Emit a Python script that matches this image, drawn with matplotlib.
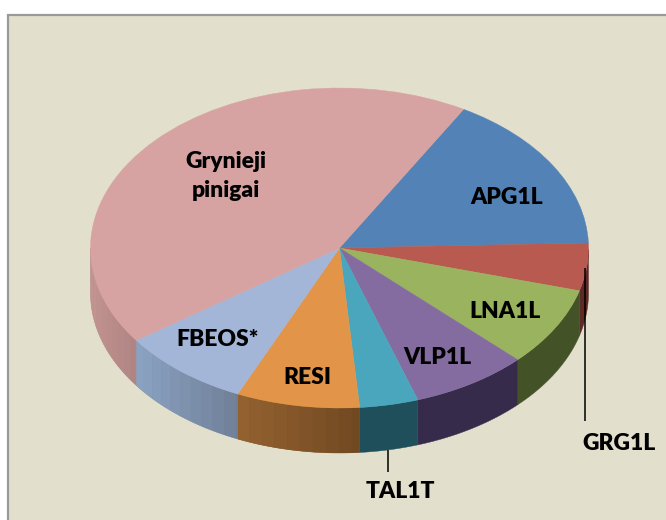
# -*- coding: utf-8 -*-
import numpy as np
from matplotlib import pyplot as plt
from matplotlib.colors import to_rgb
from matplotlib.patches import Rectangle, Polygon

# slice names and shares, clockwise from the blue slice
names = ["APG1L", "GRG1L", "LNA1L", "VLP1L", "TAL1T", "RESI", "FBEOS*", "Grynieji\npinigai"]
shares = [16.2, 4.8, 8.0, 7.6, 3.8, 8.0, 8.5, 43.1]
top_colors = ["#5383b6", "#b85a50", "#9ab35f", "#846ca0", "#4aa6bd", "#e29549", "#a3b6d8", "#d7a3a2"]
# side wall colours, left end and right end of each slice
wall_left = ["#2f4a68", "#5e2a26", "#445228", "#372b4c", "#1f4f5b", "#936130", "#8aa2c2", "#c29492"]
wall_right = ["#2f4a68", "#5e2a26", "#445228", "#372b4c", "#1f4f5b", "#6e4720", "#6e7d94", "#ad8280"]

W, H = 666, 520
fig = plt.figure(figsize=(W / 100, H / 100), dpi=100, facecolor="white")

# overlay in pixel coordinates for frame, labels and leader lines
back = fig.add_axes([0, 0, 1, 1], zorder=0)
back.set_xlim(0, W)
back.set_ylim(H, 0)
back.axis("off")
back.add_patch(Rectangle((8, 15), W + 20, H + 20, facecolor="#e2dfcc", edgecolor="#9a9a9a", lw=1.6))

# pie axes: unit circle stretched to an ellipse
cx, cy, rx, ry, depth = 339.5, 248, 249, 160, 45
ax = fig.add_axes([(cx - rx) / W, 1 - (cy + ry) / H, 2 * rx / W, 2 * ry / H], zorder=1)
wedges, _ = ax.pie(shares, colors=top_colors, startangle=60.1, counterclock=False,
                   wedgeprops={"linewidth": 0.3}, radius=1)
for w, c in zip(wedges, top_colors):
    w.set_edgecolor(c)
    w.set_zorder(3)
ax.set_aspect("auto")
ax.set_xlim(-1, 1)
ax.set_ylim(-1, 1)
ax.patch.set_alpha(0)


def wall_poly(a_from, a_to):
    t = np.radians(np.linspace(a_from, a_to, max(int(abs(a_to - a_from)), 2) + 2))
    top = np.column_stack([np.cos(t), np.sin(t)])
    bot = (top - [0, depth / ry])[::-1]
    return np.vstack([top, bot])


# side walls: a base piece, then gradient strips where the slice has banding
for w, c1, c2 in zip(wedges, wall_left, wall_right):
    a1 = np.array(to_rgb(c1))
    a2 = np.array(to_rgb(c2))
    ang = np.arange(w.theta1, w.theta2 + 3, 3.0)
    ang[-1] = w.theta2
    ang = ang[np.sin(np.radians(ang)) <= 0.001]
    if len(ang) < 2:
        continue
    ax.add_patch(Polygon(wall_poly(ang[0], ang[-1]), facecolor=(a1 + a2) / 2,
                         edgecolor=(a1 + a2) / 2, lw=0.3, clip_on=False, zorder=1))
    if c1 == c2:
        continue
    xs = np.cos(np.radians(ang))
    for i in range(len(ang) - 1):
        f = (xs[i] - xs.min()) / max(xs.max() - xs.min(), 1e-6)
        col = a1 * (1 - f) + a2 * f
        ax.add_patch(Polygon(wall_poly(ang[i], ang[i + 1]), facecolor=col, edgecolor="none",
                             clip_on=False, zorder=2))

over = fig.add_axes([0, 0, 1, 1], zorder=2)
over.set_xlim(0, W)
over.set_ylim(H, 0)
over.axis("off")
over.patch.set_alpha(0)

label_x = [507, 619, 505, 437, 400, 307, 218, 226]
label_y = [198, 443, 312, 357, 492, 378, 340, 176]
for name, x, y in zip(names, label_x, label_y):
    over.text(x, y, name, ha="center", va="center", family="Lato", weight="heavy",
              fontsize=16.5, color="black", linespacing=1.45)

over.plot([585, 585], [268, 421], color="black", lw=1.1, solid_capstyle="butt")
over.plot([388, 388], [450, 472], color="black", lw=1.1, solid_capstyle="butt")

fig.savefig("out.png", dpi=100)
